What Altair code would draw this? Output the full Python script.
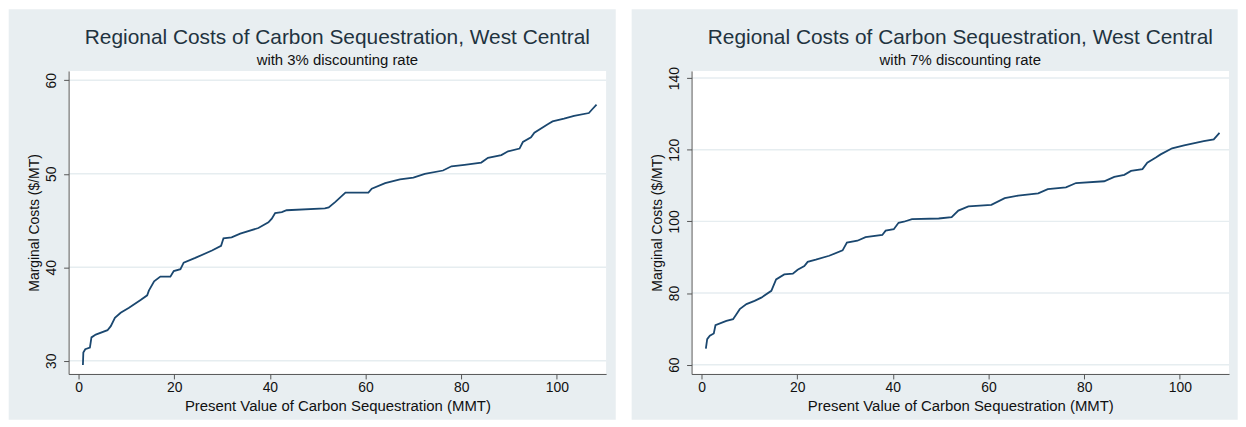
import altair as alt
import pandas as pd

# ---- data ----
x_3pct = [0.91, 1.0, 1.4, 2.37, 2.7, 3.6, 6.05, 6.74, 7.6, 8.8, 10.55, 12.97, 14.35, 14.7, 15.8,
          17.1, 19.2, 19.9, 21.3, 21.98, 24.4, 27.9, 29.8, 30.3, 32.0, 33.8, 37.6, 39.7, 40.4, 41.1,
          42.5, 43.5, 51.5, 52.3, 53.7, 55.8, 60.6, 61.3, 64.1, 67.2, 70.0, 72.4, 76.2, 77.97, 80.7,
          84.2, 85.6, 88.4, 89.8, 92.2, 92.9, 94.6, 95.3, 98.1, 99.1, 101.5, 103.6, 106.7, 107.4, 108.3]
y_3pct = [29.54, 30.89, 31.24, 31.4, 32.5, 32.8, 33.27, 33.7, 34.6, 35.14, 35.67, 36.5, 37.0, 37.5, 38.5,
          39.0, 39.0, 39.6, 39.8, 40.5, 41.0, 41.8, 42.3, 43.1, 43.2, 43.6, 44.2, 44.8, 45.2, 45.8,
          45.9, 46.1, 46.3, 46.4, 47.0, 47.98, 47.98, 48.4, 49.0, 49.4, 49.6, 49.99, 50.35, 50.8, 50.96,
          51.2, 51.7, 52.0, 52.4, 52.7, 53.4, 53.9, 54.4, 55.3, 55.6, 55.9, 56.2, 56.5, 56.9, 57.4]

x_7pct = [0.91, 1.19, 1.74, 2.57, 2.92, 5.2, 6.6, 7.3, 8.0, 9.4, 11.1, 12.5, 14.6, 15.6, 17.3,
          19.1, 20.1, 21.5, 22.2, 23.9, 26.7, 29.5, 30.4, 32.6, 34.3, 37.8, 38.5, 40.2, 41.2, 42.3,
          44.0, 49.6, 52.3, 53.7, 55.8, 60.6, 63.4, 66.2, 70.4, 72.4, 76.2, 78.3, 84.2, 86.3, 88.4,
          89.8, 92.2, 93.2, 95.0, 96.0, 98.4, 100.9, 105.0, 107.1, 108.3]
y_7pct = [64.5, 67.1, 68.1, 68.7, 71.0, 72.2, 72.7, 74.1, 75.5, 76.9, 77.8, 78.7, 80.6, 83.8, 85.2,
          85.4, 86.5, 87.5, 88.7, 89.3, 90.4, 91.9, 94.1, 94.6, 95.6, 96.2, 97.4, 97.8, 99.6, 99.9,
          100.6, 100.8, 101.2, 103.0, 104.2, 104.6, 106.5, 107.2, 107.8, 109.0, 109.5, 110.7, 111.2, 112.4, 113.0,
          114.1, 114.6, 116.4, 117.8, 118.7, 120.4, 121.2, 122.4, 122.9, 124.7]

x_ticks = [0, 20, 40, 60, 80, 100]
y_ticks_3pct = [30, 40, 50, 60]
y_ticks_7pct = [60, 80, 100, 120, 140]

main_title = "Regional Costs of Carbon Sequestration, West Central"
sub_3pct = "with 3% discounting rate"
sub_7pct = "with 7% discounting rate"
x_title = "Present Value of Carbon Sequestration (MMT)"
y_title = "Marginal Costs ($/MT)"

FONT = "Liberation Sans"
W, H = 541, 305
PANEL_BG = "#e8eef1"
LINE_COLOR = "#1a476f"
AXIS_COLOR = "#555555"
GRID_COLOR = "#e6edf0"


def panel(xs, ys, ydom, yticks, subtitle, bg_right):
    df = pd.DataFrame({"x": xs, "y": ys})
    one = pd.DataFrame({"k": [0]})
    xscale = alt.Scale(domain=[-2.08, 110.3], nice=False, zero=False)
    yscale = alt.Scale(domain=ydom, nice=False, zero=False)

    xaxis = alt.Axis(values=x_ticks, title=x_title, grid=False, format="d",
                     domainColor=AXIS_COLOR, tickColor=AXIS_COLOR, tickSize=5,
                     labelFont=FONT, labelFontSize=14, labelColor="#111111", labelPadding=2,
                     labelFlush=False, labelOverlap=False,
                     titleFont=FONT, titleFontSize=15, titleFontWeight="normal", titleColor="#111111",
                     titleY=36.5, titleBaseline="alphabetic", zindex=1)
    yaxis = alt.Axis(values=yticks, title=y_title, grid=False, format="d",
                     domainColor=AXIS_COLOR, tickColor=AXIS_COLOR, tickSize=5,
                     labelFont=FONT, labelFontSize=14, labelColor="#111111",
                     labelAngle=270, labelAlign="center", labelBaseline="alphabetic",
                     labelPadding=8.3, labelFlush=False, labelOverlap=False,
                     titleFont=FONT, titleFontSize=14, titleFontWeight="normal", titleColor="#111111",
                     titleAngle=270, titleX=-30, titleY=H / 2, titleAlign="center",
                     titleBaseline="alphabetic", zindex=1)

    bg = alt.Chart(one).mark_rect(color=PANEL_BG).encode(
        x=alt.value(-60.3), x2=alt.value(bg_right), y=alt.value(-62), y2=alt.value(351))
    plotbg = alt.Chart(one).mark_rect(color="white").encode(
        x=alt.value(0), x2=alt.value(W), y=alt.value(0), y2=alt.value(H))
    grid = alt.Chart(pd.DataFrame({"y": yticks})).mark_rule(
        color=GRID_COLOR, strokeWidth=1.5).encode(y=alt.Y("y:Q", scale=yscale, axis=yaxis))
    line = alt.Chart(df).mark_line(color=LINE_COLOR, strokeWidth=1.8).encode(
        x=alt.X("x:Q", scale=xscale, axis=xaxis),
        y=alt.Y("y:Q", scale=yscale, axis=yaxis))
    t1 = alt.Chart(one).mark_text(text=main_title, font=FONT, fontSize=21, color="#1f3340",
                                  align="center", baseline="alphabetic").encode(
        x=alt.value(W / 2), y=alt.value(-27.3))
    t2 = alt.Chart(one).mark_text(text=subtitle, font=FONT, fontSize=15, color="#111111",
                                  align="center", baseline="alphabetic").encode(
        x=alt.value(W / 2), y=alt.value(-5.7))
    return alt.layer(bg, plotbg, grid, line, t1, t2).properties(width=W, height=H)


left = panel(x_3pct, y_3pct, [28.59, 61.0], y_ticks_3pct, sub_3pct, 550.7)
right = panel(x_7pct, y_7pct, [57.4, 142.0], y_ticks_7pct, sub_7pct, 549.7)

chart = alt.hconcat(left, right, spacing=15).properties(
    padding=0, background="white"
).configure_view(stroke=None)

chart.save("out.html", embed_options={"renderer": "svg", "actions": False})
